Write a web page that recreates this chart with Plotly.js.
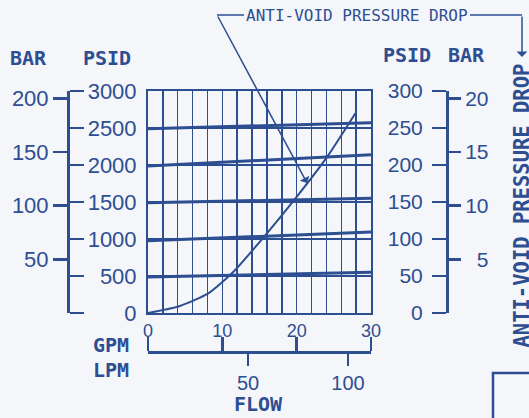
<!DOCTYPE html>
<html>
<head>
<meta charset="utf-8">
<script src="https://cdn.plot.ly/plotly-3.0.1.min.js"></script>
<style>
html,body{margin:0;padding:0;background:#f4f6fa;}
#chart{width:529px;height:418px;}
</style>
</head>
<body>
<div id="chart"></div>
<script>
// ---- data ----
const flowGpm = [0, 15, 30];
const relief2500 = [2490, 2530, 2570];
const relief2000 = [1985, 2060, 2140];
const relief1500 = [1490, 1520, 1550];
const relief1000 = [975, 1030, 1095];
const relief500 = [485, 515, 550];

const avFlowGpm = [0, 4.3, 8.1, 11.5, 16, 20, 24.1, 27.9];
const avDropPsid = [0, 9.5, 26.6, 55.8, 107.7, 157, 211, 270];

const gpmTicks = [0, 10, 20, 30];
const lpmTicks = [50, 100];
const leftBarTicks = [50, 100, 150, 200];
const rightBarTicks = [5, 10, 15, 20];
const rightBarText = ['\u20075', '10', '15', '20'];

const PSI_PER_BAR = 14.5038;
const LPM_AT_30_GPM = 111.5;   // as the printed LPM scale is laid out

// ---- style ----
const ink = '#2d4e91';
const bg = '#f4f6fa';
const numFont = {family: 'Liberation Sans, Arial, sans-serif', size: 22, color: ink};
const boldFont = {family: 'DejaVu Sans Mono, monospace', size: 20, color: ink, weight: 'bold'};

const W = 529, H = 418;
const px = x => x / W;
const py = y => (H - y) / H;

const reliefSets = [relief2500, relief2000, relief1500, relief1000, relief500];
const traces = reliefSets.map(v => ({
  x: flowGpm, y: v, xaxis: 'x', yaxis: 'y', mode: 'lines',
  line: {color: ink, width: 3}, hoverinfo: 'skip', showlegend: false
}));
traces.push({
  x: avFlowGpm, y: avDropPsid, xaxis: 'x', yaxis: 'y2', mode: 'lines',
  line: {color: ink, width: 2, shape: 'spline', smoothing: 0.6}, hoverinfo: 'skip', showlegend: false
});
// empty traces so that the extra scale axes get drawn
[['x', 'y3'], ['x', 'y4'], ['x', 'y5'], ['x2', 'y'], ['x3', 'y']].forEach(([xa, ya]) => {
  traces.push({x: [], y: [], xaxis: xa, yaxis: ya, mode: 'lines', hoverinfo: 'skip', showlegend: false});
});

const xDom = [px(148), px(371)];
const yDom = [py(313), py(91)];
const leftPos = px(68);
const rightPos = px(447);
const bracketPos = py(352);

const ann = (text, x, y, extra) => Object.assign({
  text, xref: 'paper', yref: 'paper', x: px(x), y: py(y),
  xanchor: 'center', yanchor: 'middle', showarrow: false, font: boldFont
}, extra || {});

const layout = {
  width: W, height: H,
  margin: {l: 0, r: 0, t: 0, b: 0},
  paper_bgcolor: bg, plot_bgcolor: bg,
  showlegend: false,
  xaxis: {
    domain: xDom, range: [0, 30], anchor: 'y',
    showline: true, mirror: true, linecolor: ink, linewidth: 2,
    showgrid: true, gridcolor: ink, gridwidth: 1.5,
    tickvals: gpmTicks, ticks: '',
    minor: {dtick: 2, tick0: 0, showgrid: true, gridcolor: ink, gridwidth: 1.5, ticks: ''},
    zeroline: false, tickfont: {family: numFont.family, size: 18, color: ink}
  },
  yaxis: {
    domain: yDom, range: [0, 3000], anchor: 'x',
    showline: true, mirror: true, linecolor: ink, linewidth: 2,
    showgrid: true, gridcolor: ink, gridwidth: 1.2,
    dtick: 500, ticks: 'outside', ticklen: 5, tickcolor: 'rgba(0,0,0,0)',
    zeroline: false, tickfont: numFont
  },
  yaxis2: {
    overlaying: 'y', anchor: 'free', position: rightPos, side: 'left',
    range: [0, 300], dtick: 50, showgrid: false, zeroline: false,
    showline: true, linecolor: ink, linewidth: 2.5,
    ticks: 'outside', ticklen: 14, tickwidth: 2.5, tickcolor: ink,
    ticklabelstandoff: 5, tickfont: {family: numFont.family, size: 21, color: ink}
  },
  yaxis3: {
    overlaying: 'y', anchor: 'free', position: leftPos, side: 'right',
    range: [0, 3000], dtick: 500, showgrid: false, zeroline: false,
    showline: true, linecolor: ink, linewidth: 2.5,
    ticks: 'outside', ticklen: 14, tickwidth: 2.5, tickcolor: ink,
    showticklabels: false
  },
  yaxis4: {
    overlaying: 'y', anchor: 'free', position: leftPos, side: 'left',
    range: [0, 3000 / PSI_PER_BAR], tickvals: leftBarTicks, showgrid: false, zeroline: false,
    showline: false, ticks: 'outside', ticklen: 15, tickwidth: 2.5, tickcolor: ink,
    tickfont: numFont
  },
  yaxis5: {
    overlaying: 'y', anchor: 'free', position: rightPos, side: 'right',
    range: [0, 300 / PSI_PER_BAR], tickvals: rightBarTicks, ticktext: rightBarText,
    showgrid: false, zeroline: false, showline: false,
    ticks: 'outside', ticklen: 13, tickwidth: 2.5, tickcolor: ink,
    tickfont: {family: numFont.family, size: 21, color: ink}
  },
  xaxis2: {
    overlaying: 'x', anchor: 'free', position: bracketPos, side: 'top',
    range: [0, 30], tickvals: gpmTicks, showgrid: false, zeroline: false,
    showline: true, linecolor: ink, linewidth: 2.5,
    ticks: 'outside', ticklen: 14, tickwidth: 2.5, tickcolor: ink,
    showticklabels: false
  },
  xaxis3: {
    overlaying: 'x', anchor: 'free', position: bracketPos, side: 'bottom',
    range: [0, LPM_AT_30_GPM], tickvals: lpmTicks, showgrid: false, zeroline: false,
    showline: false, ticks: 'outside', ticklen: 13, tickwidth: 2.5, tickcolor: ink,
    tickfont: {family: numFont.family, size: 20, color: ink}
  },
  annotations: [
    ann('BAR', 28, 58),
    ann('PSID', 107, 58),
    ann('PSID', 407, 55),
    ann('BAR', 466, 55),
    ann('GPM', 131, 345, {xanchor: 'right'}),
    ann('LPM', 131, 370, {xanchor: 'right'}),
    ann('FLOW', 258, 404),
    ann('ANTI-VOID PRESSURE DROP', 356.5, 15.5, {font: {family: 'DejaVu Sans Mono, monospace', size: 16, color: ink}}),
    ann('ANTI-VOID PRESSURE DROP', 521, 205.5, {textangle: -90,
      font: {family: 'DejaVu Sans Mono, monospace', size: 20.5, color: ink, weight: 'bold'}}),
    // leader from the label to the anti-void curve
    {text: '', xref: 'x', yref: 'y', x: 21.4, y: 1757, ax: -90, ay: -168,
     showarrow: true, arrowhead: 1, arrowsize: 1.2, arrowwidth: 1.5, arrowcolor: ink},
    // arrow down to the right-hand label
    {text: '', xref: 'paper', yref: 'paper', x: px(522), y: py(57), ax: 0, ay: -42,
     showarrow: true, arrowhead: 1, arrowsize: 1.2, arrowwidth: 1.5, arrowcolor: ink}
  ],
  shapes: [
    {type: 'line', xref: 'paper', yref: 'paper', x0: px(217), x1: px(244), y0: py(15), y1: py(15),
     line: {color: ink, width: 1.5}},
    {type: 'line', xref: 'paper', yref: 'paper', x0: px(470), x1: px(522), y0: py(15), y1: py(15),
     line: {color: ink, width: 1.5}},
    {type: 'path', xref: 'paper', yref: 'paper',
     path: `M ${px(493)} ${py(420)} L ${px(493)} ${py(373)} L ${px(531)} ${py(373)}`,
     line: {color: ink, width: 2.5}}
  ]
};

Plotly.newPlot('chart', traces, layout, {staticPlot: true, displayModeBar: false});
</script>
</body>
</html>
